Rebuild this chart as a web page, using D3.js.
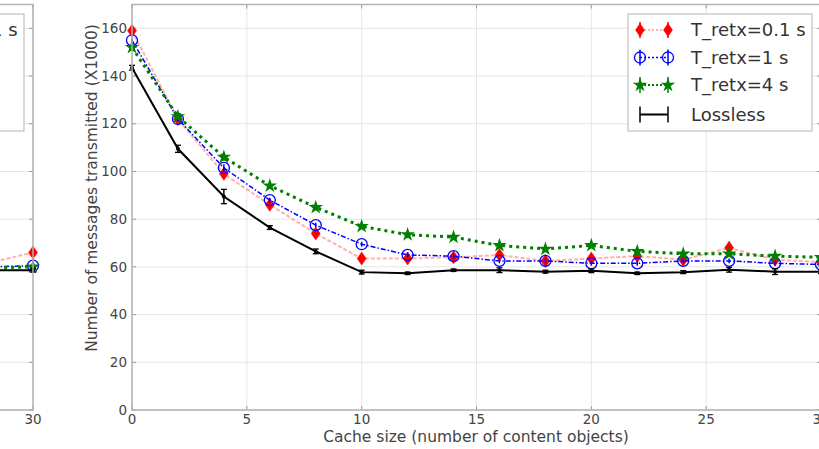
<!DOCTYPE html>
<html>
<head>
<meta charset="utf-8">
<script src="https://cdn.jsdelivr.net/npm/d3@7"></script>
<style>
  body { margin: 0; background: #fff; }
  svg { display: block; font-family: "DejaVu Sans", sans-serif; }
</style>
</head>
<body>
<script>
// ---- data ----
const cacheSizes = [0, 2, 4, 6, 8, 10, 12, 14, 16, 18, 20, 22, 24, 26, 28, 30];
const retx01 = [159, 122, 99, 86, 74, 63.5, 63.5, 64, 65, 62.5, 63.5, 64.5, 63, 68, 63, 62];
const retx01Err = [2, 1.5, 2, 1.5, 2, 2, 2, 1.5, 1.5, 1.5, 1.5, 1.5, 1.2, 2.5, 1.2, 1];
const retx1 = [155, 122, 101.5, 88, 77.5, 69.5, 65, 64.5, 62.5, 62.5, 61.5, 61.5, 62.5, 62.5, 61.5, 61];
const retx1Err = [1, 1, 1.5, 1, 1, 1, 1, 1, 1, 1, 1, 1, 1, 1, 1, 1];
const retx4 = [152, 123, 106, 94, 85, 77, 73.5, 72.5, 69, 67.5, 69, 66.5, 65.5, 65.5, 64.5, 64];
const retx4Err = [1.5, 1, 1.5, 1, 1, 1, 1.5, 1, 1, 1, 1.2, 1, 1, 1, 1, 1];
const lossless = [143.5, 109.5, 89.5, 76.5, 66.5, 57.8, 57.3, 58.6, 58.6, 58, 58.4, 57.3, 57.8, 58.8, 58, 58];
const losslessErr = [1, 1.5, 3, 0.8, 1, 0.8, 0.5, 0.5, 1, 0.6, 0.8, 0.5, 0.6, 1, 1.2, 0.8];

// left panel (only its right end is visible)
const leftSizes = [26, 28, 30];
const leftRetx01 = [61.5, 61.5, 66];
const leftRetx1 = [60, 60, 60.5];
const leftRetx4 = [59.5, 59.5, 60];
const leftLossless = [58.6, 58.6, 58.6];

const seriesNames = ["T_retx=0.1 s", "T_retx=1 s", "T_retx=4 s", "Lossless"];
const xTicks = [0, 5, 10, 15, 20, 25, 30];
const yTicks = [0, 20, 40, 60, 80, 100, 120, 140, 160];

const W = 819, H = 449;
const svg = d3.select("body").append("svg").attr("width", W).attr("height", H);

const styles = [
  { color: "red", line: "rgba(255,80,80,0.45)", width: 2, dash: "4,2", marker: "diamond" },
  { color: "blue", line: "blue", width: 1.5, dash: "5,2,1.5,2", marker: "circle" },
  { color: "green", line: "green", width: 3, dash: "3,4", marker: "star" },
  { color: "black", line: "black", width: 2, dash: null, marker: "cap" }
];

function drawMarker(g, type, color, cx, cy) {
  if (type === "diamond") {
    g.append("path")
      .attr("d", `M${cx},${cy - 6.5}L${cx + 4.5},${cy}L${cx},${cy + 6.5}L${cx - 4.5},${cy}Z`)
      .attr("fill", color).attr("stroke", color).attr("stroke-width", 0.5);
  } else if (type === "circle") {
    g.append("circle").attr("cx", cx).attr("cy", cy).attr("r", 5.5)
      .attr("fill", "none").attr("stroke", color).attr("stroke-width", 1.3);
  } else if (type === "star") {
    const sym = d3.symbol().type(d3.symbolStar).size(65);
    g.append("path").attr("d", sym()).attr("transform", `translate(${cx},${cy})`)
      .attr("fill", color);
  } else {
    g.append("circle").attr("cx", cx).attr("cy", cy).attr("r", 2).attr("fill", color);
  }
}

function drawPanel(cfg) {
  const x = d3.scaleLinear().domain([0, 30]).range([cfg.left, cfg.right]);
  const y = d3.scaleLinear().domain([0, 170]).range([410, 4.5]);
  const g = svg.append("g");

  // grid
  g.append("g").selectAll("line").data(xTicks).join("line")
    .attr("x1", d => x(d)).attr("x2", d => x(d)).attr("y1", y(170)).attr("y2", y(0))
    .attr("stroke", "#e6e6e6").attr("stroke-width", 1);
  g.append("g").selectAll("line").data(yTicks).join("line")
    .attr("x1", x(0)).attr("x2", x(30)).attr("y1", d => y(d)).attr("y2", d => y(d))
    .attr("stroke", "#e6e6e6").attr("stroke-width", 1);

  // inward ticks
  const tk = g.append("g").attr("stroke", "#999").attr("stroke-width", 1);
  xTicks.forEach(t => {
    tk.append("line").attr("x1", x(t)).attr("x2", x(t)).attr("y1", y(0)).attr("y2", y(0) - 4);
    tk.append("line").attr("x1", x(t)).attr("x2", x(t)).attr("y1", y(170)).attr("y2", y(170) + 4);
  });
  yTicks.forEach(t => {
    tk.append("line").attr("x1", x(0)).attr("x2", x(0) + 4).attr("y1", y(t)).attr("y2", y(t));
    tk.append("line").attr("x1", x(30)).attr("x2", x(30) - 4).attr("y1", y(t)).attr("y2", y(t));
  });

  // series
  cfg.series.forEach((s, i) => {
    const st = styles[i];
    const line = d3.line().x((d, j) => x(cfg.xs[j])).y(d => y(d));
    g.append("path").datum(s.values).attr("d", line)
      .attr("fill", "none").attr("stroke", st.line).attr("stroke-width", st.width)
      .attr("stroke-dasharray", st.dash);
    s.values.forEach((v, j) => {
      const e = s.err ? s.err[j] : 1;
      const cx = x(cfg.xs[j]);
      g.append("line").attr("x1", cx).attr("x2", cx).attr("y1", y(v - e)).attr("y2", y(v + e))
        .attr("stroke", st.color).attr("stroke-width", 1.5);
      if (st.marker === "cap") {
        [v - e, v + e].forEach(c => g.append("line").attr("x1", cx - 3).attr("x2", cx + 3)
          .attr("y1", y(c)).attr("y2", y(c)).attr("stroke", st.color).attr("stroke-width", 1.3));
      }
      drawMarker(g, st.marker, st.color, cx, y(v));
    });
  });

  // spines
  g.append("rect").attr("x", x(0)).attr("y", y(170))
    .attr("width", x(30) - x(0)).attr("height", y(0) - y(170))
    .attr("fill", "none").attr("stroke", "#b3b3b3").attr("stroke-width", 1.5);

  // tick labels (only the ones that fall near the page)
  g.append("g").selectAll("text").data(cfg.showY ? yTicks : []).join("text")
    .attr("x", x(0) - 5).attr("y", d => y(d)).attr("dy", "0.35em")
    .attr("text-anchor", "end").attr("font-size", 13.5).attr("fill", "#444").text(d => d);
  g.append("g").selectAll("text").data(xTicks.filter(t => x(t) > 10 && x(t) < W + 10)).join("text")
    .attr("x", d => x(d)).attr("y", 424).attr("text-anchor", "middle")
    .attr("font-size", 13.5).attr("fill", "#444").text(d => d);

  // legend
  const lg = g.append("g").attr("transform", `translate(${cfg.legendRight - 184},14)`);
  lg.append("rect").attr("width", 184).attr("height", 117).attr("fill", "#fff")
    .attr("stroke", "#b3b3b3").attr("stroke-width", 1);
  seriesNames.forEach((name, i) => {
    const st = styles[i];
    const ly = 16 + i * 27.5 + (i === 3 ? 2 : 0);
    lg.append("line").attr("x1", 12).attr("x2", 40).attr("y1", ly).attr("y2", ly)
      .attr("stroke", st.line).attr("stroke-width", st.marker === "star" ? 2 : st.width)
      .attr("stroke-dasharray", st.marker === "cap" ? null : "2,2");
    [12, 40].forEach(px => {
      lg.append("line").attr("x1", px).attr("x2", px).attr("y1", ly - 8).attr("y2", ly + 8)
        .attr("stroke", st.color).attr("stroke-width", 1.5);
      if (st.marker !== "cap") drawMarker(lg, st.marker, st.color, px, ly);
    });
    lg.append("text").attr("x", 63).attr("y", ly).attr("dy", "0.35em")
      .attr("font-size", 18).attr("fill", "#333").text(name);
  });
}

// left (cropped) panel
drawPanel({
  left: 33 - 689, right: 33, showY: false, legendRight: 24, xs: leftSizes,
  series: [
    { values: leftRetx01 }, { values: leftRetx1 }, { values: leftRetx4 }, { values: leftLossless, err: [0.8, 0.8, 0.8] }
  ]
});

// main panel
drawPanel({
  left: 132, right: 821, showY: true, legendRight: 812, xs: cacheSizes,
  series: [
    { values: retx01, err: retx01Err }, { values: retx1, err: retx1Err },
    { values: retx4, err: retx4Err }, { values: lossless, err: losslessErr }
  ]
});

svg.append("text").attr("x", 476).attr("y", 442).attr("text-anchor", "middle")
  .attr("font-size", 15.5).attr("fill", "#444").text("Cache size (number of content objects)");
svg.append("text").attr("transform", "translate(97,188) rotate(-90)").attr("text-anchor", "middle")
  .attr("font-size", 15.5).attr("fill", "#444").text("Number of messages transmitted (X1000)");
</script>
</body>
</html>
